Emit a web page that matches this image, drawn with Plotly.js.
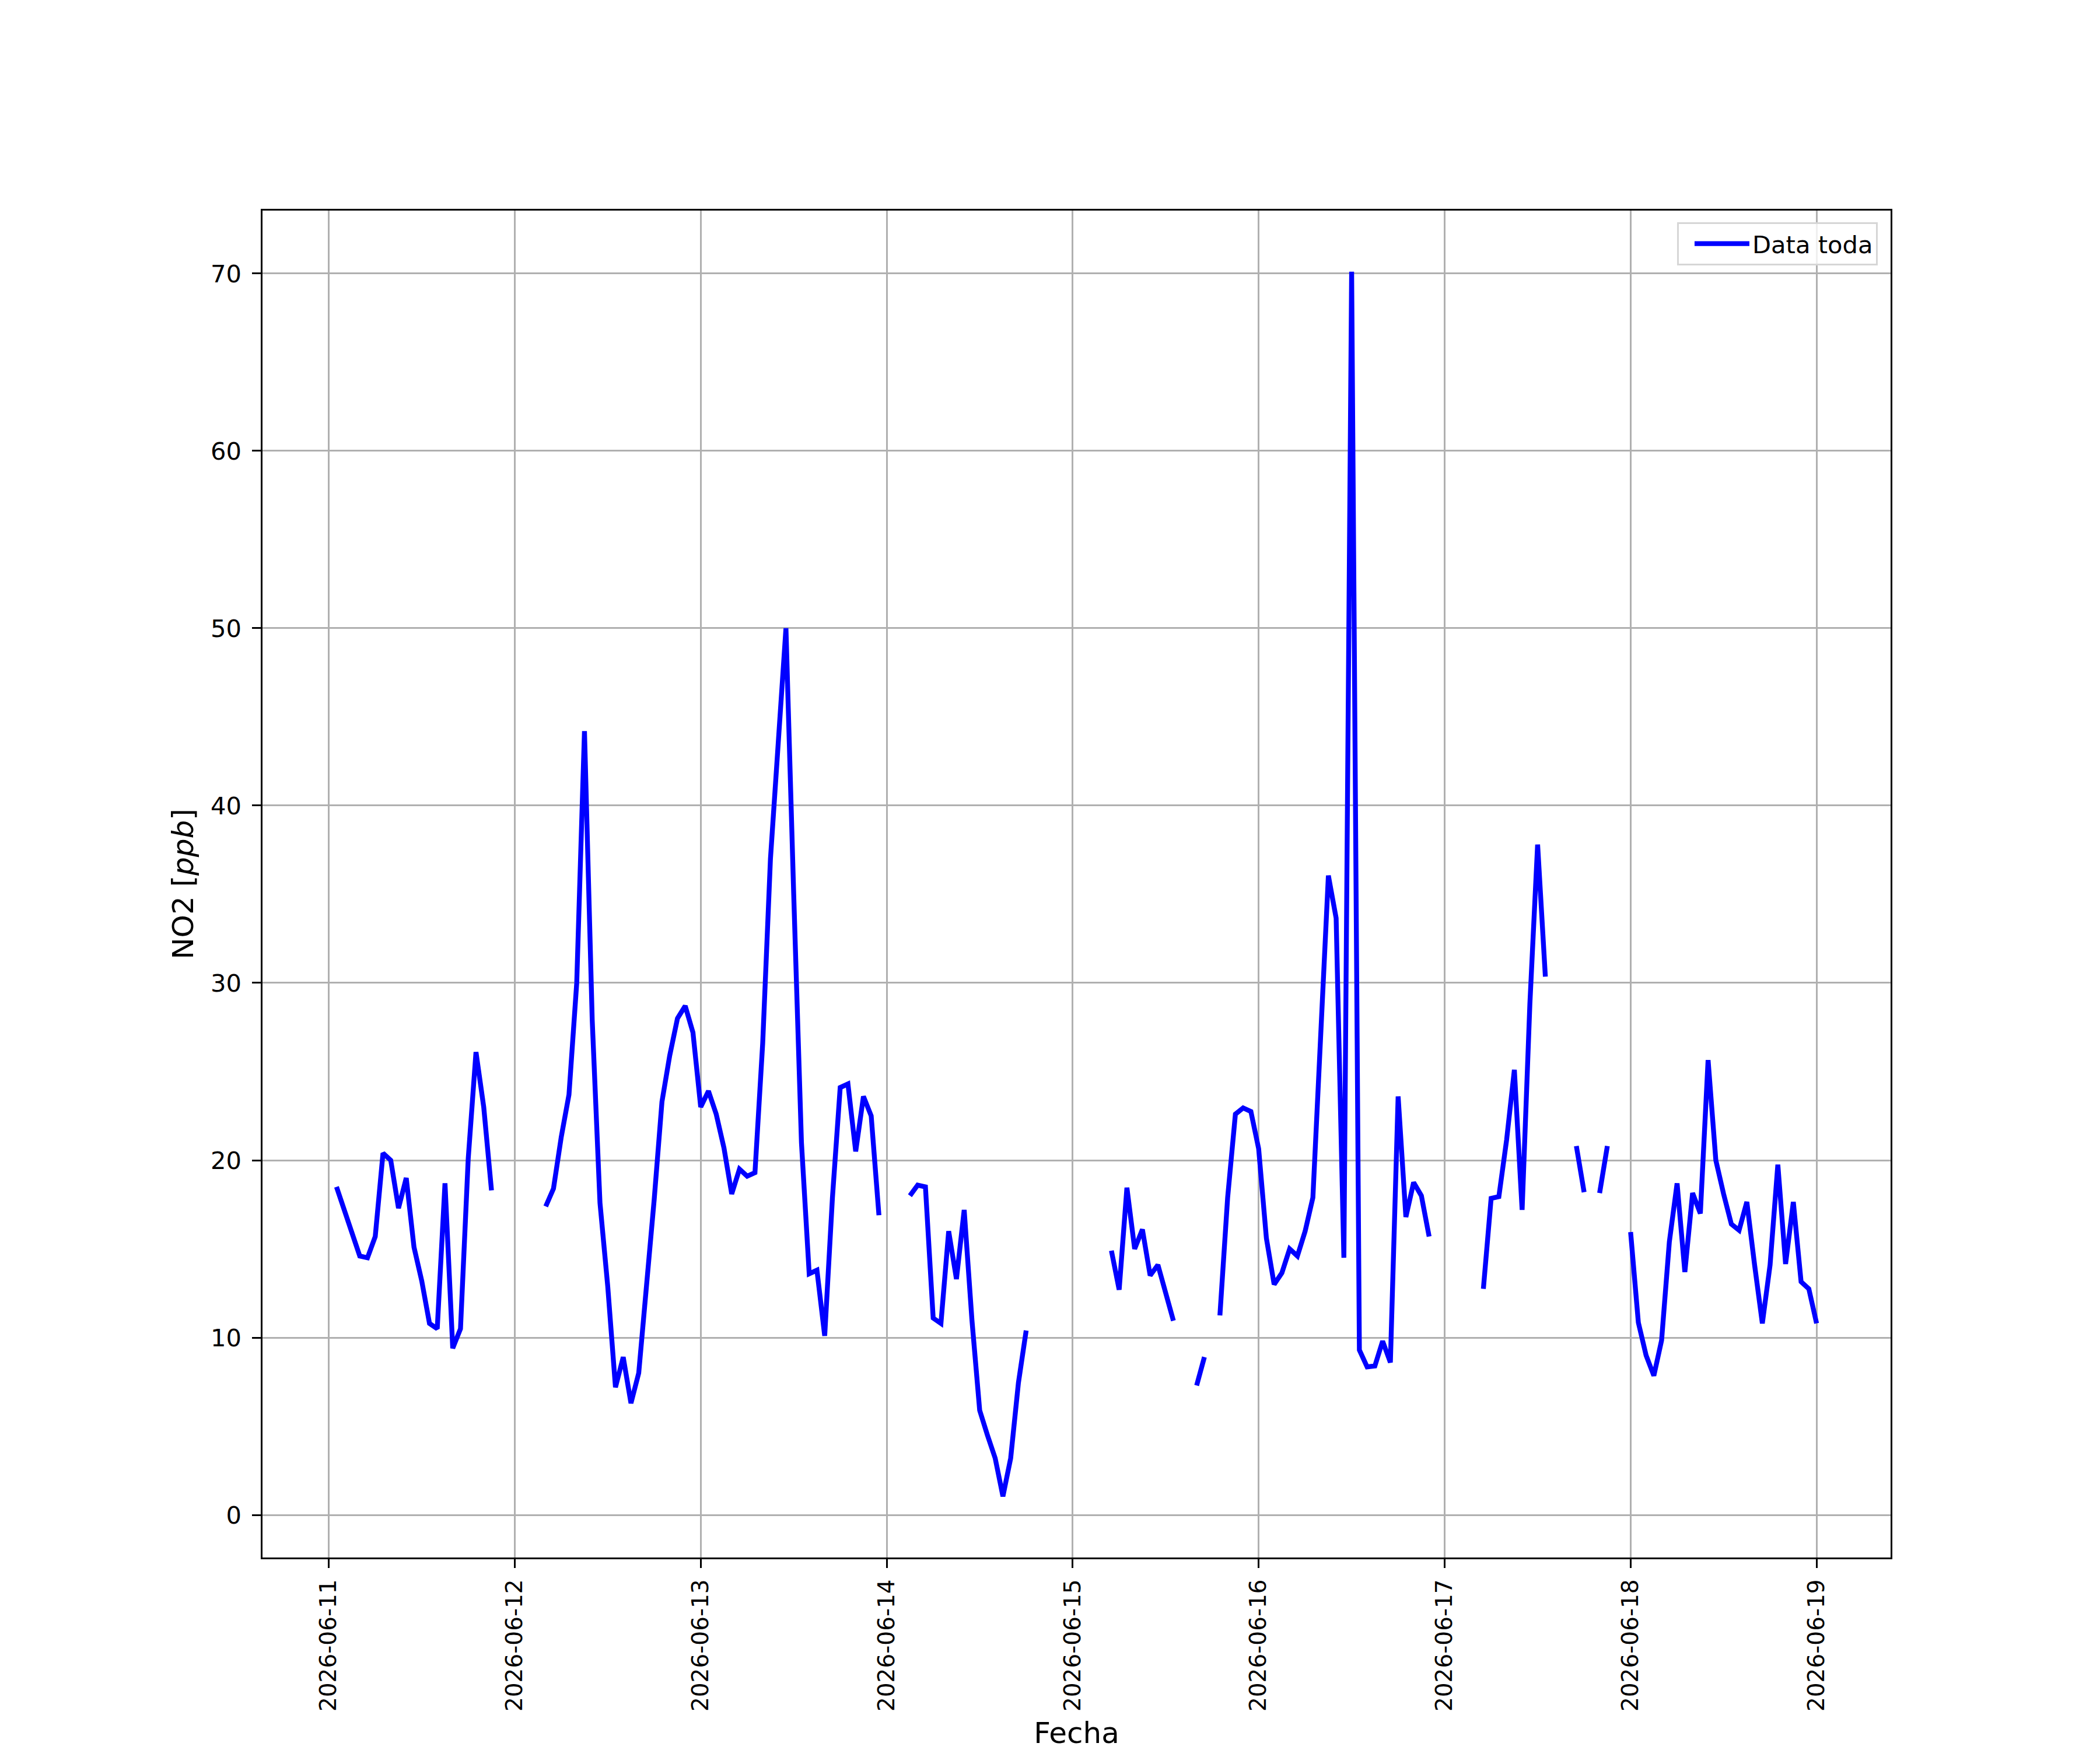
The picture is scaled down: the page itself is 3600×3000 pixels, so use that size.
<!DOCTYPE html>
<html>
<head>
<meta charset="utf-8">
<script src="https://cdn.plot.ly/plotly-3.0.1.min.js"></script>
<style>
  html, body { margin: 0; padding: 0; background: #fff; }
  #chart { width: 3600px; height: 3000px; }
</style>
</head>
<body>
<div id="chart"></div>
<script>
/* ============================================
   NO2 hourly series, 2026-06-11 .. 2026-06-19
   ============================================ */

// ---- Data: one array per day, index = hour (null = no reading) ----
const days = ['2026-06-11', '2026-06-12', '2026-06-13', '2026-06-14',
              '2026-06-15', '2026-06-16', '2026-06-17', '2026-06-18'];

const no2_0611 = [null, 18.5, 17.1, 15.9, 14.6, 14.5, 15.7, 20.4, 20.0, 17.3, 19.0, 15.1,
                  13.2, 10.8, 10.5, 18.7, 9.4, 10.5, 20.1, 26.1, 23.0, 18.3, null, null];
const no2_0612 = [null, null, null, null, 17.4, 18.4, 21.3, 23.7, 30.0, 44.2, 27.9, 17.6,
                  12.9, 7.2, 8.9, 6.3, 8.0, 12.6, 17.8, 23.3, 25.9, 28.0, 28.7, 27.2];
const no2_0613 = [23.0, 23.9, 22.6, 20.7, 18.1, 19.5, 19.1, 19.3, 26.6, 37.0, 43.5, 50.0,
                  35.0, 21.0, 13.6, 13.8, 10.1, 17.9, 24.1, 24.3, 20.5, 23.6, 22.5, 16.9];
const no2_0614 = [null, null, null, 18.0, 18.6, 18.5, 11.1, 10.8, 16.0, 13.3, 17.2, 11.0,
                  5.9, 4.5, 3.2, 1.05, 3.2, 7.45, 10.4, null, null, null, null, null];
const no2_0615 = [null, null, null, null, null, 14.9, 12.7, 18.45, 15.0, 16.1, 13.5, 14.1,
                  12.5, 10.95, null, null, 7.3, 8.9, null, 11.25, 17.9, 22.6, 22.95, 22.75];
const no2_0616 = [20.65, 15.6, 13.0, 13.65, 15.0, 14.6, 16.0, 17.9, 26.5, 36.05, 33.65, 14.5,
                  70.1, 9.3, 8.35, 8.4, 9.8, 8.6, 23.6, 16.8, 18.75, 18.0, 15.7, null];
const no2_0617 = [null, null, null, null, null, 12.75, 17.85, 17.95, 21.15, 25.1, 17.2, 28.8,
                  37.8, 30.35, null, null, null, 20.8, 18.2, null, 18.15, 20.8, null, null];
const no2_0618 = [15.95, 10.85, 9.0, 7.85, 9.85, 15.4, 18.7, 13.7, 18.15, 17.0, 25.65, 20.0,
                  18.1, 16.4, 16.05, 17.65, 14.1, 10.8, 14.1, 19.75, 14.15, 17.65, 13.15, 12.75];
// last reading, midnight of the final day
const lastTime = '2026-06-19 00:00';
const lastValue = 10.8;

const dayTicks = ['2026-06-11', '2026-06-12', '2026-06-13', '2026-06-14', '2026-06-15',
                  '2026-06-16', '2026-06-17', '2026-06-18', '2026-06-19'];

// ---- Build the hourly series ----
const perDay = [no2_0611, no2_0612, no2_0613, no2_0614, no2_0615, no2_0616, no2_0617, no2_0618];
const xs = [];
const ys = [];
days.forEach((d, i) => {
  perDay[i].forEach((v, h) => {
    xs.push(`${d} ${String(h).padStart(2, '0')}:00`);
    ys.push(v);
  });
});
xs.push(lastTime);
ys.push(lastValue);

// ---- Styling (matplotlib-like, 300 dpi) ----
const FONT = 'DejaVu Sans, sans-serif';
const tickSize = 41.67;
const xTickSize = 39;
const labelSize = 50;
const spineW = 3.33;
const gridColor = '#b0b0b0';

Plotly.newPlot('chart', [{
  type: 'scatter',
  mode: 'lines',
  name: 'Data toda',
  x: xs,
  y: ys,
  connectgaps: false,
  line: { color: '#0000ff', width: 8.33 },
}], {
  width: 3600,
  height: 3000,
  paper_bgcolor: '#ffffff',
  plot_bgcolor: '#ffffff',
  margin: { l: 450, r: 359, t: 361, b: 330, pad: 0 },
  font: { family: FONT, size: tickSize, color: '#000000' },
  showlegend: true,
  legend: {
    x: 0.9921, y: 0.9913, xanchor: 'right', yanchor: 'top',
    bgcolor: 'rgba(255,255,255,0.8)',
    bordercolor: '#d6d6d6',
    borderwidth: 3,
    indentation: 22,
    font: { family: FONT, size: tickSize, color: '#000000' },
    itemwidth: 94,
  },
  xaxis: {
    type: 'date',
    range: ['2026-06-10 15:27', '2026-06-19 09:33'],
    tickmode: 'array',
    tickvals: dayTicks,
    ticktext: dayTicks,
    tickangle: -90,
    ticks: 'outside',
    ticklen: 14.6,
    tickwidth: spineW,
    tickcolor: '#000000',
    ticklabelstandoff: 4,
    showgrid: true,
    gridcolor: gridColor,
    gridwidth: spineW,
    zeroline: false,
    showline: true,
    linecolor: '#000000',
    linewidth: spineW,
    mirror: true,
    automargin: false,
    tickfont: { family: FONT, size: xTickSize, color: '#000000' },
    title: { text: 'Fecha', font: { family: FONT, size: labelSize, color: '#000000' }, standoff: 30 },
  },
  yaxis: {
    range: [-2.4, 73.55],
    dtick: 10,
    tick0: 0,
    ticks: 'outside',
    ticklen: 14.6,
    tickwidth: spineW,
    tickcolor: '#000000',
    ticklabelstandoff: 10,
    showgrid: true,
    gridcolor: gridColor,
    gridwidth: spineW,
    zeroline: false,
    showline: true,
    linecolor: '#000000',
    linewidth: spineW,
    mirror: true,
    automargin: false,
    tickfont: { family: FONT, size: tickSize, color: '#000000' },
    title: { text: 'NO2 [<i>ppb</i>]', font: { family: FONT, size: labelSize, color: '#000000' }, standoff: 14 },
  },
}, { displayModeBar: false, responsive: false });
</script>
</body>
</html>
